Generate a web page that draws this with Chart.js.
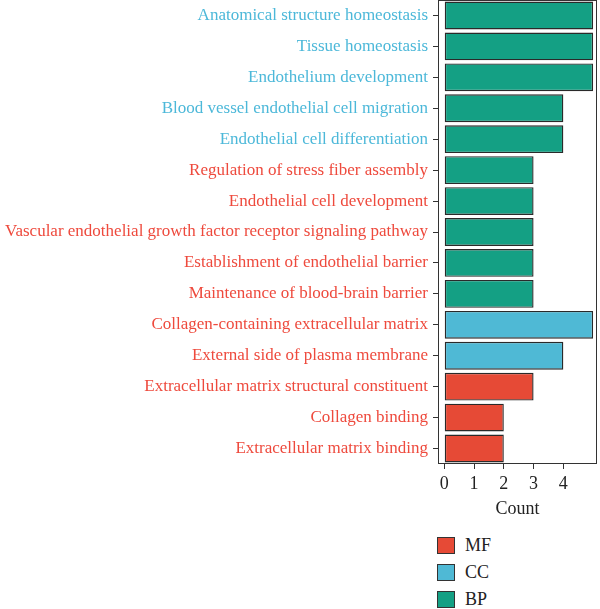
<!DOCTYPE html>
<html>
<head>
<meta charset="utf-8">
<script src="https://cdn.jsdelivr.net/npm/chart.js@4"></script>
<style>
  html, body { margin: 0; padding: 0; background: #fff; }
  #wrap { position: relative; width: 600px; height: 609px; }
  #chartBox { position: absolute; left: 0; top: 0; width: 600px; height: 523px; }
  #legend { position: absolute; left: 437px; top: 536px; font-family: "Liberation Serif", "DejaVu Serif", serif; font-size: 18px; color: #222; }
  .item { display: flex; align-items: center; height: 18px; margin-bottom: 9px; }
  .swatch { width: 18px; height: 17px; border: 1px solid #333; box-sizing: border-box; margin-right: 10px; }
</style>
</head>
<body>
<div id="wrap">
  <div id="chartBox"><canvas id="goChart"></canvas></div>
  <div id="legend"></div>
</div>
<script>
const terms = [
  "Anatomical structure homeostasis",
  "Tissue homeostasis",
  "Endothelium development",
  "Blood vessel endothelial cell migration",
  "Endothelial cell differentiation",
  "Regulation of stress fiber assembly",
  "Endothelial cell development",
  "Vascular endothelial growth factor receptor signaling pathway",
  "Establishment of endothelial barrier",
  "Maintenance of blood-brain barrier",
  "Collagen-containing extracellular matrix",
  "External side of plasma membrane",
  "Extracellular matrix structural constituent",
  "Collagen binding",
  "Extracellular matrix binding"
];
// counts per category (null = not in this group)
const bpCounts = [5, 5, 5, 4, 4, 3, 3, 3, 3, 3, null, null, null, null, null];
const ccCounts = [null, null, null, null, null, null, null, null, null, null, 5, 4, null, null, null];
const mfCounts = [null, null, null, null, null, null, null, null, null, null, null, null, 3, 2, 2];
const labelGroups = ["cyan", "cyan", "cyan", "cyan", "cyan", "red", "red", "red", "red", "red", "red", "red", "red", "red", "red"];
const countTicks = [0, 1, 2, 3, 4];

const serif = "'Liberation Serif', 'DejaVu Serif', serif";
const labelColors = { cyan: "#4cb8d9", red: "#ee4a3d" };

const boxPlugin = {
  id: "boxPlugin",
  afterDraw(chart) {
    const a = chart.chartArea;
    const ctx = chart.ctx;
    ctx.save();
    ctx.strokeStyle = "#333";
    ctx.lineWidth = 1;
    ctx.strokeRect(Math.round(a.left) + 0.5, Math.round(a.top) + 0.5, Math.round(a.right - a.left) - 1, Math.round(a.bottom - a.top) - 1);
    ctx.restore();
  }
};

const barStyle = { borderColor: "#2a2a2a", borderWidth: 1.4, borderSkipped: false, barPercentage: 0.9, categoryPercentage: 1, grouped: false };

const chart = new Chart(document.getElementById("goChart"), {
  type: "bar",
  data: {
    labels: terms,
    datasets: [
      Object.assign({ label: "MF", data: mfCounts, backgroundColor: "#e64a36" }, barStyle),
      Object.assign({ label: "CC", data: ccCounts, backgroundColor: "#4fb9d5" }, barStyle),
      Object.assign({ label: "BP", data: bpCounts, backgroundColor: "#14a084" }, barStyle)
    ]
  },
  options: {
    indexAxis: "y",
    responsive: true,
    maintainAspectRatio: false,
    animation: false,
    layout: { padding: { top: 0, right: 3, left: 0, bottom: 0 } },
    plugins: {
      legend: { display: false },
      tooltip: { enabled: false }
    },
    scales: {
      y: {
        grid: { drawOnChartArea: false, offset: false, tickLength: 5, color: "#333" },
        border: { display: false },
        ticks: {
          font: { family: serif, size: 17 },
          color: ctx => labelColors[labelGroups[ctx.index]],
          padding: 5,
          autoSkip: false
        },
        afterFit(scale) {
          scale.width = 438;
          scale.paddingTop = 0;
          scale.paddingBottom = 0;
        }
      },
      x: {
        min: -0.21,
        max: 5.13,
        afterBuildTicks(scale) { scale.ticks = countTicks.map(v => ({ value: v })); },
        grid: { drawOnChartArea: false, tickLength: 5, color: "#333" },
        border: { display: false },
        ticks: { font: { family: serif, size: 18 }, color: "#222", padding: 4 },
        title: { display: true, text: "Count", font: { family: serif, size: 18 }, color: "#222", padding: { top: 0, bottom: 3 } },
        afterFit(scale) { scale.height = 59; }
      }
    }
  },
  plugins: [boxPlugin]
});

// vertical legend below the plot
const legend = document.getElementById("legend");
chart.data.datasets.forEach(ds => {
  const item = document.createElement("div");
  item.className = "item";
  const sw = document.createElement("span");
  sw.className = "swatch";
  sw.style.background = ds.backgroundColor;
  const txt = document.createElement("span");
  txt.textContent = ds.label;
  item.appendChild(sw);
  item.appendChild(txt);
  legend.appendChild(item);
});
</script>
</body>
</html>
